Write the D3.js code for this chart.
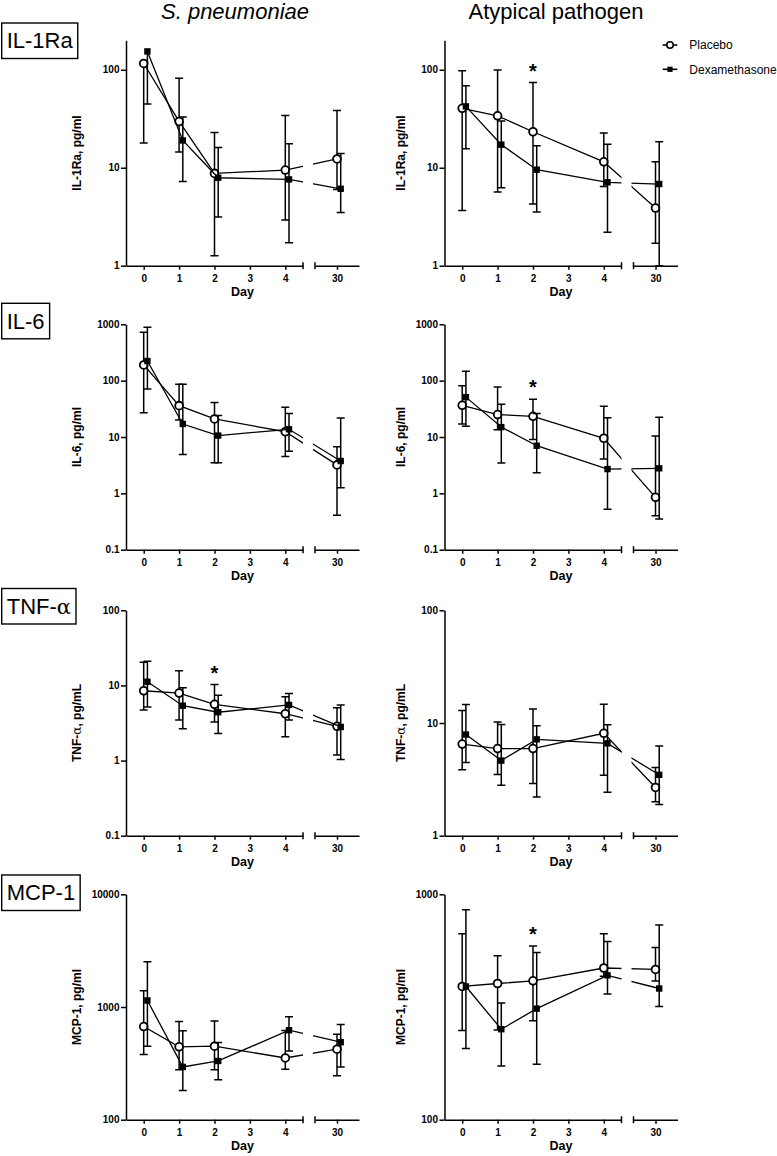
<!DOCTYPE html>
<html><head><meta charset="utf-8">
<script src="https://cdn.jsdelivr.net/npm/d3@7"></script>
<style>body{margin:0;background:#fff}svg{display:block}text{font-family:"Liberation Sans",Arial,sans-serif}</style>
</head><body><svg id="c" width="777" height="1156"></svg>
<script>
// ---------- data ----------
const days = [0, 1, 2, 4, 30];
const dayTicksA = [0, 1, 2, 3, 4];
const dayTicksB = [30];
const seriesNames = ["Placebo", "Dexamethasone"];
const columnTitles = ["S. pneumoniae", "Atypical pathogen"];
const rowLabels = ["IL-1Ra", "IL-6", "TNF-", "MCP-1"];
const axisTitles = ["IL-1Ra, pg/ml", "IL-6, pg/ml", "TNF-", "MCP-1, pg/ml"];

// y tick values / ranges
const il1raTicks = [1, 10, 100];
const il6Ticks = [0.1, 1, 10, 100, 1000];
const tnfSpTicks = [0.1, 1, 10, 100];
const tnfAtTicks = [1, 10, 100];
const mcpSpTicks = [100, 1000, 10000];
const mcpAtTicks = [100, 1000];
const il1raRange = [1, 200];
const il6Range = [0.1, 1000];
const tnfSpRange = [0.1, 100];
const tnfAtRange = [1, 100];
const mcpSpRange = [100, 10000];
const mcpAtRange = [100, 1000];

// [median, lower, upper] for days 0,1,2,4,30
const il1raSpPlacebo = [[116, 17.9, null], [29.7, 14.5, 82], [8.75, 1.26, 22.9], [9.47, 2.93, 34.2], [12.3, 6, 38.4]];
const il1raSpDexa    = [[154, 44.7, null], [19, 7.25, 33], [7.9, 3.14, 16.1], [7.6, 1.72, 17.6], [6.1, 3.5, 14]];
const il1raAtPlacebo = [[40.4, 3.67, 97.7], [33.9, 5.65, 99.3], [23.3, 4.26, 74.3], [11.5, 6.45, 22.6], [3.88, 1.7, 11.5]];
const il1raAtDexa    = [[42.3, 15.6, 68.7], [17.2, 6.25, 30], [9.55, 3.53, 16.8], [7.1, 2.2, 17.4], [6.82, 1.0, 18.4]];

const il6SpPlacebo = [[190, 27, 721], [36, 20, 86], [20.9, 3.5, 41], [12.4, 4.5, 33.6], [3.2, 0.41, 6.7]];
const il6SpDexa    = [[223, 71, 885], [17, 4.9, 86], [10.6, 3.5, 24], [13.7, 5.6, 26], [3.75, 1.26, 21.7]];
const il6AtPlacebo = [[36.5, 17, 81.5], [25, 13.5, 77], [23.3, 9, 46.7], [9.5, 4.06, 35], [0.85, 0.40, 10.4]];
const il6AtDexa    = [[51, 15.5, 147], [15, 3.45, 38], [7.0, 2.33, 26], [2.7, 0.52, 22], [2.78, 0.35, 22.3]];

const tnfSpPlacebo = [[8.5, 4.7, 20.4], [7.9, 3.47, 15.7], [5.6, 3.26, 10.3], [4.2, 2.07, 7.06], [2.86, 1.19, 5.03]];
const tnfSpDexa    = [[11.2, 5.15, 21], [5.37, 2.66, 9.3], [4.4, 2.3, 7.4], [5.5, 3.46, 7.8], [2.8, 1.03, 5.5]];
const tnfAtPlacebo = [[6.5, 3.84, 12.9], [5.93, 3.49, 10.2], [5.93, 2.9, 13.3], [8.1, 3.44, 14.7], [2.68, 2.0, 4.03]];
const tnfAtDexa    = [[7.9, 4.46, 14.6], [4.64, 2.8, 9.7], [7.16, 2.2, 9.47], [6.6, 2.43, 9.66], [3.47, 1.89, 6.25]];

const mcpSpPlacebo = [[671, 378, 1393], [443, 278, 743], [449, 278, 753], [353, 280, 620], [422, 246, 574]];
const mcpSpDexa    = [[1143, 449, 2517], [294, 182, 614], [332, 226, 483], [622, 407, 819], [487, 294, 699]];
const mcpAtPlacebo = [[390, 249, 668], [402, 250, 534], [413, 275, 589], [471, 433, 668], [464, 412, 581]];
const mcpAtDexa    = [[390, 207, 855], [252, 173, 329], [311, 176, 552], [437, 361, 618], [382, 318, 731]];

// significance asterisks (at day 2): height value per row, null = none
const starDay = 2;
const starSp = [null, null, 16.6, null];
const starAt = [106, 92, null, 693];

// ---------- layout ----------
const svg = d3.select("#c");
const colX = [126, 444.5];
const rowTop = [40.3, 324.3, 610.3, 894.3];
const plotH = 225.4;
const seg1 = d3.scaleLinear().domain([-0.5, 4.5]).range([0, 177]);
const seg2 = d3.scaleLinear().domain([29.38, 30.62]).range([189, 233]);
const xPos = d => d <= 4.5 ? seg1(d) : seg2(d);
const dexaShift = 3.7;
const FONT = '"Liberation Sans",Arial,sans-serif';

const panels = [
  {row:0,col:0,dom:il1raRange,ticks:il1raTicks,s:[il1raSpPlacebo,il1raSpDexa],star:starSp[0]},
  {row:0,col:1,dom:il1raRange,ticks:il1raTicks,s:[il1raAtPlacebo,il1raAtDexa],star:starAt[0]},
  {row:1,col:0,dom:il6Range,ticks:il6Ticks,s:[il6SpPlacebo,il6SpDexa],star:starSp[1]},
  {row:1,col:1,dom:il6Range,ticks:il6Ticks,s:[il6AtPlacebo,il6AtDexa],star:starAt[1]},
  {row:2,col:0,dom:tnfSpRange,ticks:tnfSpTicks,s:[tnfSpPlacebo,tnfSpDexa],star:starSp[2]},
  {row:2,col:1,dom:tnfAtRange,ticks:tnfAtTicks,s:[tnfAtPlacebo,tnfAtDexa],star:starAt[2]},
  {row:3,col:0,dom:mcpSpRange,ticks:mcpSpTicks,s:[mcpSpPlacebo,mcpSpDexa],star:starSp[3]},
  {row:3,col:1,dom:mcpAtRange,ticks:mcpAtTicks,s:[mcpAtPlacebo,mcpAtDexa],star:starAt[3]},
];

const defs = svg.append("defs");

// column titles
svg.append("text").attr("x", 235).attr("y", 18.5).attr("text-anchor", "middle")
  .attr("font-size", 22).attr("font-style", "italic").text(columnTitles[0]);
svg.append("text").attr("x", 556).attr("y", 18.5).attr("text-anchor", "middle")
  .attr("font-size", 22).text(columnTitles[1]);

// row boxed labels
const boxTops = [23, 303.3, 588.5, 875];
rowLabels.forEach((lab, i) => {
  const t = svg.append("text").attr("x", 6.7).attr("y", boxTops[i] + 25.3).attr("font-size", 22);
  t.append("tspan").text(lab);
  if (i === 2) t.append("tspan").attr("font-family", '"DejaVu Serif",serif').attr("font-size", 21).text("α");
  const w = t.node().getComputedTextLength();
  svg.insert("rect", "text").attr("x", 1.7).attr("y", boxTops[i]).attr("width", w + 10).attr("height", 35.5)
    .attr("fill", "none").attr("stroke", "#000").attr("stroke-width", 1.4);
});

panels.forEach((p, pi) => {
  const g = svg.append("g").attr("transform", `translate(${colX[p.col]},${rowTop[p.row]})`);
  const y = d3.scaleLog().domain(p.dom).range([plotH, 0]);

  // clip paths
  const cpA = "clipPlot" + pi, cpB = "clipLine" + pi;
  defs.append("clipPath").attr("id", cpA).append("rect").attr("x", -20).attr("y", -0.5).attr("width", 290).attr("height", plotH + 1);
  const cl = defs.append("clipPath").attr("id", cpB);
  cl.append("rect").attr("x", -20).attr("y", -0.5).attr("width", 197).attr("height", plotH + 1);
  cl.append("rect").attr("x", 187).attr("y", -0.5).attr("width", 80).attr("height", plotH + 1);

  // y axis
  const ya = g.append("g").call(d3.axisLeft(y).tickValues(p.ticks).tickSize(5).tickSizeOuter(0).tickPadding(1.5)
    .tickFormat(d => String(d)));
  // x axes
  const xa1 = g.append("g").attr("transform", `translate(0,${plotH})`)
    .call(d3.axisBottom(seg1).tickValues(dayTicksA).tickSize(4).tickSizeOuter(0).tickPadding(5.6).tickFormat(d3.format("d")));
  const xa2 = g.append("g").attr("transform", `translate(0,${plotH})`)
    .call(d3.axisBottom(seg2).tickValues(dayTicksB).tickSize(4).tickSizeOuter(0).tickPadding(5.6).tickFormat(d3.format("d")));
  [ya, xa1, xa2].forEach(a => {
    a.selectAll("path,line").attr("stroke", "#000").attr("stroke-width", 1.5);
    a.selectAll("text").attr("font-size", 10).attr("font-weight", "bold").attr("fill", "#000").attr("font-family", FONT);
  });
  // break end ticks
  [seg1.range()[1], seg2.range()[0]].forEach(xv => {
    g.append("line").attr("x1", xv).attr("x2", xv).attr("y1", plotH - 3.5).attr("y2", plotH + 3.5)
      .attr("stroke", "#000").attr("stroke-width", 1.5);
  });

  // axis titles
  g.append("text").attr("x", 116.5).attr("y", plotH + 30.5).attr("text-anchor", "middle")
    .attr("font-size", 12.5).attr("font-weight", "bold").text("Day");
  const yt = g.append("text").attr("transform", `translate(${(p.col === 0 ? 81 : 405) - colX[p.col]},${plotH / 2}) rotate(-90)`)
    .attr("text-anchor", "middle").attr("font-size", 12).attr("font-weight", "bold");
  if (p.row === 2) {
    yt.append("tspan").text("TNF-");
    yt.append("tspan").attr("font-family", '"DejaVu Serif",serif').attr("font-weight", "normal").text("α");
    yt.append("tspan").text(", pg/mL");
  } else yt.text(axisTitles[p.row]);

  // series
  p.s.forEach((ser, si) => {
    const shift = si === 1 ? dexaShift : 0;
    const pts = ser.map((v, i) => ({x: xPos(days[i]) + shift, v: v[0], lo: v[1], hi: v[2]}));
    const eb = g.append("g").attr("clip-path", `url(#${cpA})`).attr("stroke", "#000").attr("stroke-width", 1.5);
    pts.forEach(d => {
      const y0 = d.lo != null ? y(Math.max(d.lo, p.dom[0] * 0.5)) : y(d.v);
      const y1 = d.hi != null ? y(d.hi) : y(d.v);
      eb.append("line").attr("x1", d.x).attr("x2", d.x).attr("y1", y0).attr("y2", y1);
      if (d.lo != null) eb.append("line").attr("x1", d.x - 4).attr("x2", d.x + 4).attr("y1", y(d.lo)).attr("y2", y(d.lo));
      if (d.hi != null) eb.append("line").attr("x1", d.x - 4).attr("x2", d.x + 4).attr("y1", y(d.hi)).attr("y2", y(d.hi));
    });
    g.append("path").datum(pts).attr("clip-path", `url(#${cpB})`)
      .attr("d", d3.line().x(d => d.x).y(d => y(d.v)))
      .attr("fill", "none").attr("stroke", "#000").attr("stroke-width", 1.3);
    if (si === 0) {
      g.selectAll(null).data(pts).join("circle").attr("cx", d => d.x).attr("cy", d => y(d.v)).attr("r", 3.9)
        .attr("fill", "#fff").attr("stroke", "#000").attr("stroke-width", 1.8);
    } else {
      g.selectAll(null).data(pts).join("rect").attr("x", d => d.x - 3.2).attr("y", d => y(d.v) - 3.2)
        .attr("width", 6.4).attr("height", 6.4).attr("fill", "#000");
    }
  });

  if (p.star != null) {
    g.append("text").attr("x", seg1(starDay)).attr("y", y(p.star) + 11).attr("text-anchor", "middle")
      .attr("font-size", 20).attr("font-weight", "bold").text("*");
  }
});

// legend
const leg = svg.append("g");
[45, 69.3].forEach((ly, i) => {
  leg.append("line").attr("x1", 662.7).attr("x2", 677.3).attr("y1", ly).attr("y2", ly).attr("stroke", "#000").attr("stroke-width", 1.6);
  if (i === 0) leg.append("circle").attr("cx", 670).attr("cy", ly).attr("r", 3.2).attr("fill", "#fff").attr("stroke", "#000").attr("stroke-width", 1.6);
  else leg.append("rect").attr("x", 667.4).attr("y", ly - 2.6).attr("width", 5.2).attr("height", 5.2).attr("fill", "#000");
  leg.append("text").attr("x", 689.3).attr("y", ly + 4.3).attr("font-size", 12).text(seriesNames[i]);
});
</script>
</body></html>
